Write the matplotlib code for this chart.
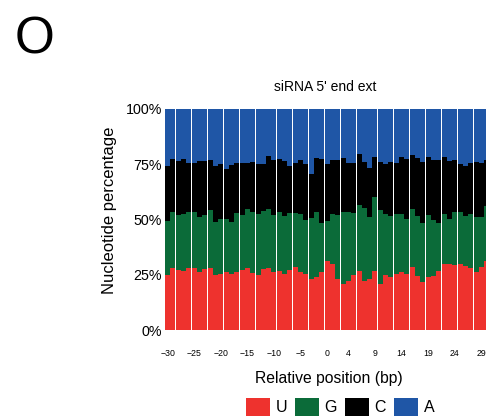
import matplotlib

matplotlib.use("Agg")
import matplotlib.pyplot as plt
import numpy as np
from matplotlib.patches import Patch

# relative position of each column (bp)
POSITIONS = list(range(-30, 31))

# nucleotide composition per position, percent
U_PCT = [24.9, 28.1, 27.1, 26.8, 28.1, 28.1, 26.2, 27.6, 28.1, 24.9,
         25.3, 26.2, 25.3, 26.2, 27.1, 28.1, 25.8, 24.9, 27.6, 28.1,
         26.2, 26.7, 25.3, 27.1, 28.5, 26.2, 25.3, 23.1, 24.0, 26.2,
         31.2, 29.9, 23.1, 20.8, 22.2, 24.9, 26.7, 22.2, 23.1, 26.7,
         20.8, 24.9, 24.0, 25.3, 26.2, 25.3, 28.5, 24.4, 21.7, 24.0,
         24.4, 26.7, 29.9, 29.9, 29.4, 29.9, 29.0, 28.1, 26.2, 28.5,
         31.2]
G_PCT = [24.4, 25.3, 24.9, 25.7, 25.3, 25.3, 24.9, 24.4, 26.2, 24.0,
         24.9, 24.0, 23.6, 26.7, 24.9, 26.7, 27.6, 27.6, 26.2, 26.7,
         25.8, 26.7, 26.3, 25.8, 24.4, 26.3, 24.5, 27.6, 29.4, 22.2,
         18.1, 22.6, 28.9, 32.6, 31.2, 28.0, 29.9, 33.0, 28.0, 33.5,
         33.5, 27.6, 27.6, 27.2, 26.3, 24.9, 26.3, 27.2, 26.7, 28.0,
         25.4, 21.7, 22.6, 20.3, 24.0, 23.5, 22.6, 24.4, 24.9, 22.6,
         24.9]
C_PCT = [24.9, 24.0, 24.6, 24.9, 22.2, 22.2, 25.4, 24.5, 22.6, 25.3,
         24.9, 22.7, 25.8, 22.7, 23.6, 20.8, 22.6, 22.6, 21.3, 23.9,
         24.9, 24.0, 24.9, 21.3, 22.7, 24.4, 25.3, 19.9, 24.4, 29.0,
         25.8, 24.4, 24.9, 24.4, 22.2, 22.7, 23.0, 20.8, 22.2, 18.1,
         21.7, 22.6, 24.4, 23.1, 25.8, 27.2, 24.4, 26.2, 27.6, 26.3,
         27.1, 28.5, 25.8, 26.3, 23.5, 21.7, 22.6, 23.1, 24.9, 24.5,
         20.8]
A_PCT = [25.8, 22.6, 23.4, 22.6, 24.4, 24.4, 23.5, 23.5, 23.1, 25.8,
         24.9, 27.1, 25.3, 24.4, 24.4, 24.4, 24.0, 24.9, 24.9, 21.3,
         23.1, 22.6, 23.5, 25.8, 24.4, 23.1, 24.9, 29.4, 22.2, 22.6,
         24.9, 23.1, 23.1, 22.2, 24.4, 24.4, 20.4, 24.0, 26.7, 21.7,
         24.0, 24.9, 24.0, 24.4, 21.7, 22.6, 20.8, 22.2, 24.0, 21.7,
         23.1, 23.1, 21.7, 23.5, 23.1, 24.9, 25.8, 24.4, 24.0, 24.4,
         23.1]

NUCLEOTIDES = ["U", "G", "C", "A"]
COLORS = ["#EE322E", "#0B6B39", "#000000", "#1F56A6"]

X_TICKS = [-30, -25, -20, -15, -10, -5, 0, 4, 9, 14, 19, 24, 29]
Y_TICKS = [0, 25, 50, 75, 100]

FONT = "Liberation Sans"


def main():
    plt.rcParams["font.family"] = [FONT, "DejaVu Sans"]
    fig = plt.figure(figsize=(4.86, 4.17), dpi=100)
    ax = fig.add_axes([165 / 486, 87 / 417, 321 / 486, 221 / 417])

    x = np.array(POSITIONS)
    bottom = np.zeros(len(x))
    for series, color in zip([U_PCT, G_PCT, C_PCT, A_PCT], COLORS):
        vals = np.array(series)
        ax.bar(x, vals, bottom=bottom, width=0.94, color=color,
               linewidth=0)
        bottom += vals

    ax.set_xlim(-30.5, 29.88)
    ax.set_ylim(0, 100)
    ax.set_xticks(X_TICKS)
    ax.set_xticklabels([str(t).replace("-", "\u2212") for t in X_TICKS])
    ax.set_yticks(Y_TICKS)
    ax.set_yticklabels([f"{t}%" for t in Y_TICKS])
    ax.tick_params(axis="x", length=0, labelsize=6.3, pad=14)
    ax.tick_params(axis="y", length=0, labelsize=10.3, pad=2)
    for spine in ax.spines.values():
        spine.set_visible(False)

    ax.set_title("siRNA 5' end ext", fontsize=10, pad=13)
    ax.set_xlabel("Relative position (bp)", fontsize=11.3)
    ax.xaxis.set_label_coords(0.51, -0.185)
    ax.set_ylabel("Nucleotide percentage", fontsize=12)
    ax.yaxis.set_label_coords(-0.15, 0.54)

    fig.text(15 / 486, 1 - 15 / 417, "O", fontsize=37, ha="left", va="top")

    handles = [Patch(facecolor=c, edgecolor="none") for c in COLORS]
    fig.legend(handles, NUCLEOTIDES, loc="center",
               bbox_to_anchor=(340 / 486, 10 / 417), ncol=4, frameon=False,
               fontsize=11.5, handlelength=1.5, handleheight=1.4,
               handletextpad=0.35, columnspacing=0.5, borderpad=0)

    fig.savefig("out.png", dpi=100)
    plt.close(fig)


if __name__ == "__main__":
    main()
